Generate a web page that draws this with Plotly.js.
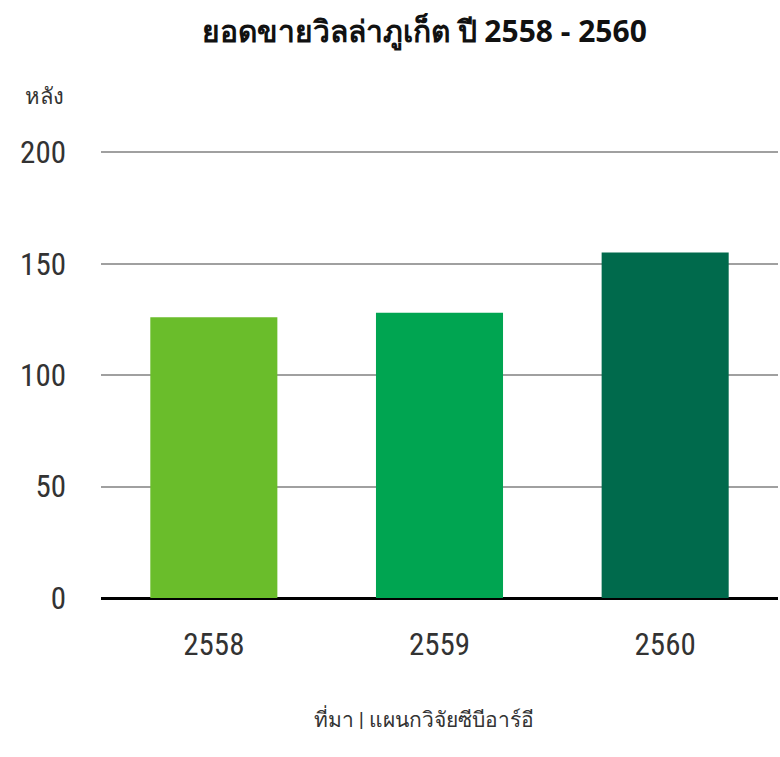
<!DOCTYPE html>
<html>
<head>
<meta charset="utf-8">
<script src="https://cdn.plot.ly/plotly-3.0.1.min.js"></script>
<style>
  html, body { margin: 0; padding: 0; background: #fff; }
  #chart { width: 780px; height: 757px; }
</style>
</head>
<body>
<div id="chart"></div>
<script>
const years = ['2558', '2559', '2560'];
const villaSales = [126, 128, 155];
const barColors = ['#6abd2b', '#00a551', '#006a4c'];
const yTicks = [0, 50, 100, 150, 200];

const narrow = '"Liberation Sans Narrow", "Roboto Condensed", Arial Narrow, sans-serif';

const trace = {
    type: 'bar',
    x: years,
    y: villaSales,
    marker: { color: barColors },
    hoverinfo: 'x+y'
};

// range goes a hair past 200 so the top gridline is drawn
const layout = {
    width: 780,
    height: 757,
    margin: { l: 101, r: 2, t: 150, b: 159 },
    paper_bgcolor: '#fff',
    plot_bgcolor: '#fff',
    showlegend: false,
    bargap: 0.437,
    title: {
        text: '<b>ยอดขายวิลล่าภูเก็ต ปี 2558 - 2560</b>',
        x: 0.544,
        xanchor: 'center',
        y: 0.958,
        yanchor: 'middle',
        font: { family: '"Noto Sans", sans-serif', size: 30, color: '#111' }
    },
    xaxis: {
        type: 'category',
        showgrid: false,
        showline: false,
        ticks: '',
        tickfont: { family: narrow, size: 31, color: '#333' },
        ticklabelstandoff: 25
    },
    yaxis: {
        range: [0, 201],
        tickvals: yTicks,
        ticktext: yTicks.map(String),
        showgrid: true,
        gridcolor: '#a0a0a0',
        gridwidth: 2,
        zeroline: true,
        zerolinecolor: '#000',
        zerolinewidth: 3,
        showline: false,
        ticks: '',
        tickfont: { family: narrow, size: 31, color: '#333' },
        ticklabelstandoff: 34
    },
    annotations: [
        {
            text: 'หลัง',
            xref: 'paper', yref: 'paper',
            x: -0.115, y: 1.12,
            xanchor: 'left', yanchor: 'middle',
            showarrow: false,
            font: { family: narrow, size: 22, color: '#333' }
        },
        {
            text: 'ที่มา | แผนกวิจัยซีบีอาร์อี',
            xref: 'paper', yref: 'paper',
            x: (424 - 101) / 677, y: -0.27,
            xanchor: 'center', yanchor: 'middle',
            showarrow: false,
            font: { family: narrow, size: 21, color: '#333' }
        }
    ]
};

Plotly.newPlot('chart', [trace], layout, { displayModeBar: false, staticPlot: true });
</script>
</body>
</html>
